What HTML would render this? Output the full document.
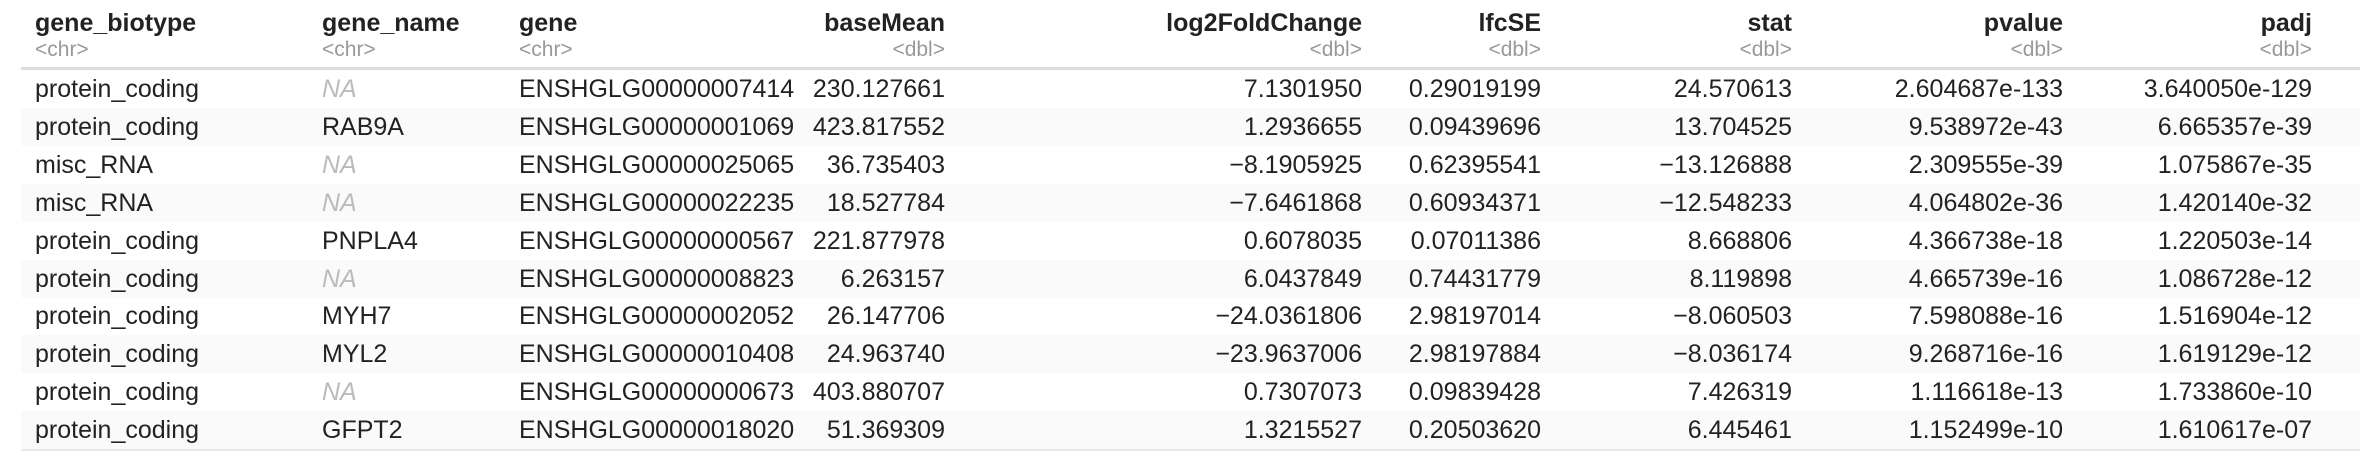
<!DOCTYPE html>
<html><head><meta charset="utf-8"><style>
body{margin:0;width:2360px;height:476px;background:#fff;overflow:hidden;font-family:"Liberation Sans",sans-serif;}
.c{position:absolute;white-space:nowrap;font-size:25px;color:#222;line-height:38px;}
.h{font-weight:bold;line-height:30px;font-size:25px;}
.t{color:#999;font-size:21px;line-height:24px;}
.r{text-align:right;}
.na{color:#bbb;font-style:italic;}
.row{position:absolute;left:21px;width:2339px;height:38px;}
</style></head><body>
<div id="tbl"></div>
<script>
const headers=["gene_biotype","gene_name","gene","baseMean","log2FoldChange","lfcSE","stat","pvalue","padj"];
const types=["<chr>","<chr>","<chr>","<dbl>","<dbl>","<dbl>","<dbl>","<dbl>","<dbl>"];
const biotype=["protein_coding","protein_coding","misc_RNA","misc_RNA","protein_coding","protein_coding","protein_coding","protein_coding","protein_coding","protein_coding"];
const geneName=["NA","RAB9A","NA","NA","PNPLA4","NA","MYH7","MYL2","NA","GFPT2"];
const gene=["ENSHGLG00000007414","ENSHGLG00000001069","ENSHGLG00000025065","ENSHGLG00000022235","ENSHGLG00000000567","ENSHGLG00000008823","ENSHGLG00000002052","ENSHGLG00000010408","ENSHGLG00000000673","ENSHGLG00000018020"];
const baseMean=["230.127661","423.817552","36.735403","18.527784","221.877978","6.263157","26.147706","24.963740","403.880707","51.369309"];
const lfc=["7.1301950","1.2936655","-8.1905925","-7.6461868","0.6078035","6.0437849","-24.0361806","-23.9637006","0.7307073","1.3215527"];
const lfcSE=["0.29019199","0.09439696","0.62395541","0.60934371","0.07011386","0.74431779","2.98197014","2.98197884","0.09839428","0.20503620"];
const stat=["24.570613","13.704525","-13.126888","-12.548233","8.668806","8.119898","-8.060503","-8.036174","7.426319","6.445461"];
const pvalue=["2.604687e-133","9.538972e-43","2.309555e-39","4.064802e-36","4.366738e-18","4.665739e-16","7.598088e-16","9.268716e-16","1.116618e-13","1.152499e-10"];
const padj=["3.640050e-129","6.665357e-39","1.075867e-35","1.420140e-32","1.220503e-14","1.086728e-12","1.516904e-12","1.619129e-12","1.733860e-10","1.610617e-07"];
const cols=[biotype,geneName,gene,baseMean,lfc,lfcSE,stat,pvalue,padj];
const pos=[35,322,519,945,1362,1541,1792,2063,2312];
const right=[false,false,false,true,true,true,true,true,true];
const T=document.getElementById('tbl');
function place(el,i,y){
  if(right[i]){el.style.right=(2360-pos[i])+'px';el.classList.add('r');}
  else el.style.left=pos[i]+'px';
  el.style.top=y+'px';
}
let s=document.createElement('div');


s.style.cssText='position:absolute;left:21px;width:2339px;top:67px;height:3px;background:#ddd';
T.appendChild(s);
for(let r=0;r<10;r++){
  const y=70+r*37.9;
  if(r%2==1){
    const b=document.createElement('div');
    b.className='row';
    
    
    b.style.top=y+'px';b.style.background='#fafafa';
    T.appendChild(b);
  }
  cols.forEach((col,i)=>{
    const d=document.createElement('div');
    d.className='c'+(col[r]==='NA'?' na':'');
    d.textContent=col[r].replace(/^-/,'\u2212');
    
    
    place(d,i,y);
    T.appendChild(d);
  });
}
let e=document.createElement('div');


e.style.cssText='position:absolute;left:21px;width:2339px;top:449px;height:2px;background:#e8e8e8';
T.appendChild(e);
headers.forEach((h,i)=>{
  const d=document.createElement('div');
  d.className='c h';d.textContent=h;
  
  
  place(d,i,8);T.appendChild(d);
  const t=document.createElement('div');
  t.className='c t';t.textContent=types[i];
  
  
  place(t,i,38);T.appendChild(t);
});
</script>
</body></html>
